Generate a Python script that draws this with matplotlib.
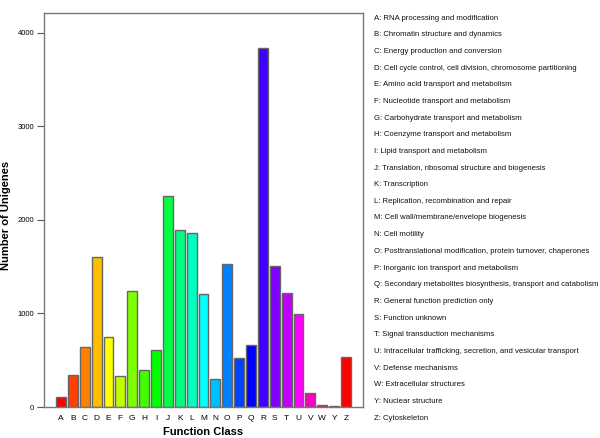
import colorsys

import matplotlib

matplotlib.use("Agg")
import matplotlib.pyplot as plt

plt.rcParams["font.family"] = ["Liberation Sans", "DejaVu Sans"]

# COG function classes and unigene counts
classes = list("ABCDEFGHIJKLMNOPQRSTUVWYZ")
counts = [103, 346, 639, 1603, 750, 332, 1243, 400, 614, 2261, 1893, 1861,
          1207, 300, 1525, 521, 668, 3833, 1504, 1214, 992, 146, 20, 6, 536]
descriptions = [
    "RNA processing and modification",
    "Chromatin structure and dynamics",
    "Energy production and conversion",
    "Cell cycle control, cell division, chromosome partitioning",
    "Amino acid transport and metabolism",
    "Nucleotide transport and metabolism",
    "Carbohydrate transport and metabolism",
    "Coenzyme transport and metabolism",
    "Lipid transport and metabolism",
    "Translation, ribosomal structure and biogenesis",
    "Transcription",
    "Replication, recombination and repair",
    "Cell wall/membrane/envelope biogenesis",
    "Cell motility",
    "Posttranslational modification, protein turnover, chaperones",
    "Inorganic ion transport and metabolism",
    "Secondary metabolites biosynthesis, transport and catabolism",
    "General function prediction only",
    "Function unknown",
    "Signal transduction mechanisms",
    "Intracellular trafficking, secretion, and vesicular transport",
    "Defense mechanisms",
    "Extracellular structures",
    "Nuclear structure",
    "Cytoskeleton",
]
y_ticks = [0, 1000, 2000, 3000, 4000]

# R-style rainbow(24), recycled for the 25th bar
n_hues = 24
colors = [colorsys.hsv_to_rgb((i % n_hues) / n_hues, 1, 1) for i in range(len(classes))]

W, H = 600, 438
fig = plt.figure(figsize=(W / 100, H / 100), dpi=100)
ax = fig.add_axes([44 / W, 1 - 407 / H, 319 / W, 394 / H])

x = list(range(len(classes)))
ax.bar(x, counts, width=0.83, color=colors, edgecolor="#666666", linewidth=1.0)
ax.set_xlim(-1.43, len(classes) - 1 + 1.43)
ax.set_ylim(0, 4212)

ax.set_xticks(x)
ax.set_xticklabels(classes, fontsize=6)
ax.tick_params(axis="x", length=0, pad=6)
ax.set_yticks(y_ticks)
ax.set_yticklabels([str(v) for v in y_ticks], fontsize=5.5)
ax.tick_params(axis="y", length=5, width=0.8, color="#555555", pad=2)

for spine in ax.spines.values():
    spine.set_color("#777777")
    spine.set_linewidth(1.0)

# axis titles placed by hand so they sit where the reference has them
fig.text(203 / W, 1 - 432 / H, "Function Class", fontsize=8, fontweight="bold",
         ha="center", va="center")
fig.text(6 / W, 1 - 215 / H, "Number of Unigenes", fontsize=8, fontweight="bold",
         ha="center", va="center", rotation=90)

# class descriptions listed to the right of the plot
top_y, bottom_y = 18, 418
step = (bottom_y - top_y) / (len(classes) - 1)
for i, (c, d) in enumerate(zip(classes, descriptions)):
    fig.text(374 / W, 1 - (top_y + i * step) / H, f"{c}: {d}",
             fontsize=5.6, va="center", ha="left", color="#111111")

fig.savefig("out.png", dpi=100)
plt.close(fig)
